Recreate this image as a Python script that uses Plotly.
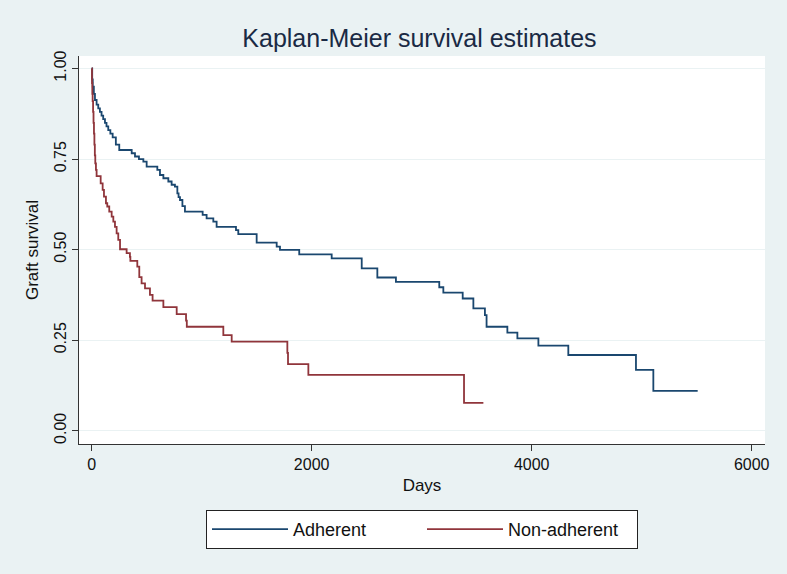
import plotly.graph_objects as go

# Kaplan-Meier step estimates
adh_days = [0, 5, 10, 20, 30, 45, 60, 75, 90, 105, 121, 135, 151, 170, 191, 220, 251,
            364, 394, 430, 470, 500, 597, 621, 652, 697, 727, 757, 779, 790, 803, 825,
            848, 1009, 1045, 1106, 1136, 1312, 1333, 1500, 1682, 1712, 1887, 2182, 2455,
            2597, 2766, 3160, 3197, 3373, 3470, 3575, 3590, 3779, 3870, 4061, 4333, 4948,
            5106, 5509]
adh_surv = [1.0, 0.97, 0.95, 0.93, 0.913, 0.90, 0.89, 0.88, 0.87, 0.86, 0.85, 0.84, 0.83,
            0.82, 0.81, 0.79, 0.775, 0.766, 0.757, 0.75, 0.743, 0.729, 0.72, 0.706, 0.697,
            0.688, 0.679, 0.674, 0.655, 0.645, 0.637, 0.62, 0.605, 0.596, 0.586, 0.577,
            0.563, 0.554, 0.543, 0.519, 0.508, 0.499, 0.487, 0.476, 0.448, 0.423, 0.411,
            0.396, 0.381, 0.365, 0.338, 0.319, 0.287, 0.271, 0.255, 0.235, 0.209, 0.168,
            0.110, 0.110]

non_days = [0, 3, 6, 9, 13, 17, 21, 25, 29, 33, 39, 45, 82, 100, 112, 130, 142, 160, 182,
            197, 212, 227, 242, 258, 318, 348, 352, 415, 433, 454, 485, 530, 554, 652, 773,
            858, 865, 1197, 1273, 1779, 1785, 1970, 3385, 3561]
non_surv = [1.0, 0.96, 0.93, 0.91, 0.88, 0.85, 0.82, 0.79, 0.76, 0.738, 0.72, 0.703, 0.683,
            0.665, 0.646, 0.628, 0.619, 0.605, 0.591, 0.577, 0.563, 0.545, 0.527, 0.501,
            0.490, 0.480, 0.469, 0.453, 0.424, 0.407, 0.393, 0.375, 0.359, 0.341, 0.322,
            0.304, 0.287, 0.264, 0.246, 0.215, 0.184, 0.154, 0.077, 0.077]

y_ticks = [0, 0.25, 0.5, 0.75, 1.0]
y_labels = ['0.00', '0.25', '0.50', '0.75', '1.00']
x_ticks = [0, 2000, 4000, 6000]

bg = '#EAF2F3'
font = 'Liberation Sans, Arial, sans-serif'

trace1 = go.Scatter(x=adh_days, y=adh_surv, mode='lines', name='Adherent',
                    line=dict(color='#1a476f', width=1.8, shape='hv'))
trace2 = go.Scatter(x=non_days, y=non_surv, mode='lines', name='Non-adherent',
                    line=dict(color='#90353b', width=1.8, shape='hv'))

layout = go.Layout(
    width=787, height=574,
    paper_bgcolor=bg, plot_bgcolor='white',
    margin=dict(l=79, r=22, t=56, b=130),
    font=dict(family=font, color='#111111', size=16),
    title=dict(text='Kaplan-Meier survival estimates', x=0.533, xanchor='center',
               y=0.933, yanchor='middle', font=dict(size=25, color='#1a2a44')),
    xaxis=dict(range=[-115, 6121], tickvals=x_ticks, showgrid=False, zeroline=False,
               showline=True, linecolor='#333333', linewidth=1.2,
               ticks='outside', ticklen=6, tickcolor='#333333',
               title=dict(text='Days', standoff=6, font=dict(size=17))),
    yaxis=dict(range=[-0.0367, 1.0345], tickvals=y_ticks, ticktext=y_labels,
               tickangle=-90, showgrid=True, gridcolor=bg, gridwidth=1.2,
               zeroline=False, showline=True, linecolor='#333333', linewidth=1.2,
               ticks='outside', ticklen=6, tickcolor='#333333',
               title=dict(text='Graft survival', standoff=8, font=dict(size=17))),
    legend=dict(orientation='h', x=0.5, xanchor='center', y=-0.17, yanchor='top',
                bgcolor='white', bordercolor='#222222', borderwidth=1,
                font=dict(size=18), entrywidth=124, itemwidth=76),
)

fig = go.Figure(data=[trace1, trace2], layout=layout)
# drop the default page margin so the figure fills the window
fig.write_html('out.html', config={'displayModeBar': False},
               post_script="document.body.style.margin='0';")
